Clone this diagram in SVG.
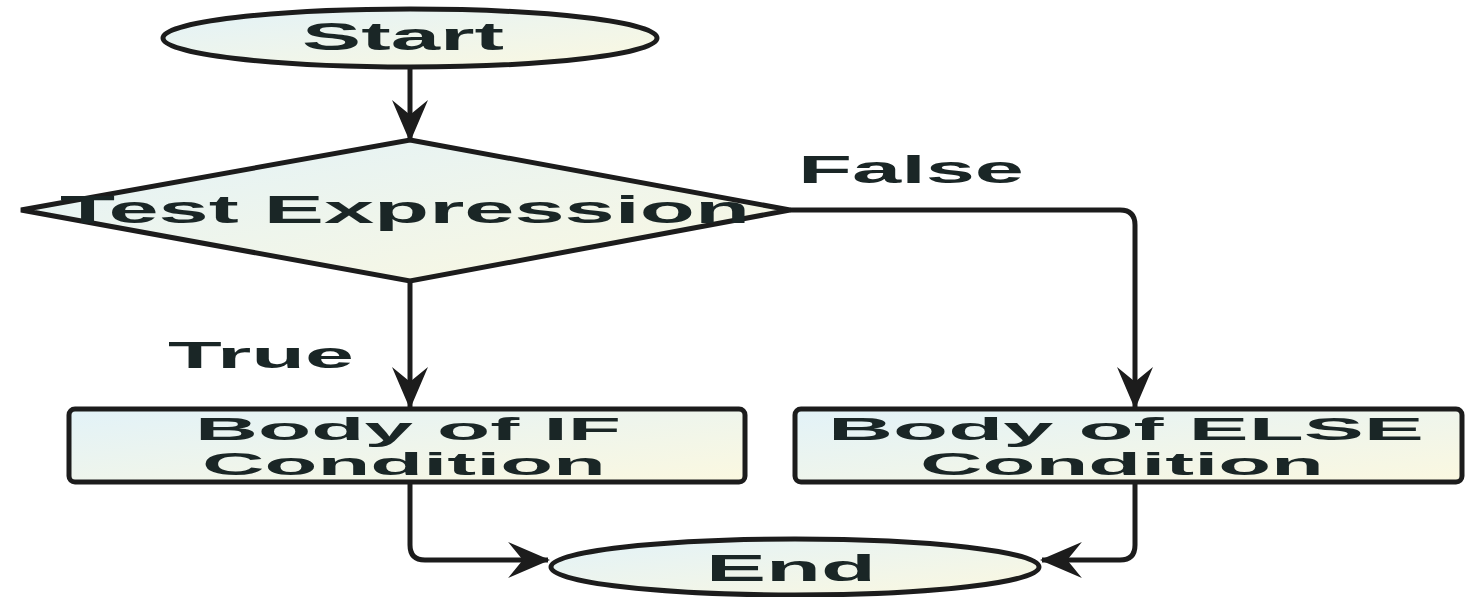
<svg xmlns="http://www.w3.org/2000/svg" width="1468" height="597" viewBox="0 0 1468 597">
  <defs>
    <linearGradient id="fillGrad" x1="0" y1="0" x2="1" y2="1">
      <stop offset="0" stop-color="#e2f2f8"/>
      <stop offset="1" stop-color="#fbf8e0"/>
    </linearGradient>
    <marker id="arrowBig" viewBox="0 0 20 20" refX="19" refY="10" markerWidth="42" markerHeight="36" markerUnits="userSpaceOnUse" orient="auto" preserveAspectRatio="none">
      <path d="M0,0 L20,10 L0,20 L7,10 Z" fill="#1c1c1c"/>
    </marker>
  </defs>
  <style>
    .shape { fill: url(#fillGrad); stroke: #1c1c1c; stroke-width: 5; }
    .conn { fill: none; stroke: #1c1c1c; stroke-width: 5; marker-end: url(#arrowBig); }
    .label { font-family: "Liberation Sans", Arial, sans-serif; font-weight: bold; fill: #1a2626; }
  </style>

  <!-- connectors -->
  <g id="connectors">
    <path class="conn" d="M410,68 L410,140"/>
    <path class="conn" d="M790,210 L1120,210 Q1135,210 1135,225 L1135,407"/>
    <path class="conn" d="M410,281 L410,407"/>
    <path class="conn" d="M410,483 L410,545 Q410,560 425,560 L548,560"/>
    <path class="conn" d="M1135,483 L1135,545 Q1135,560 1120,560 L1042,560"/>
  </g>

  <g id="start">
    <ellipse class="shape" cx="410" cy="38" rx="247" ry="29"/>
    <text class="label" x="302" y="50" font-size="38" textLength="202" lengthAdjust="spacingAndGlyphs">Start</text>
  </g>

  <g id="test">
    <polygon class="shape" points="410,140 790,210 410,281 21,210"/>
    <text class="label" x="60" y="223" font-size="38" textLength="690" lengthAdjust="spacingAndGlyphs">Test Expression</text>
  </g>

  <g id="edge-labels">
    <text class="label" x="798" y="183" font-size="38" textLength="226" lengthAdjust="spacingAndGlyphs">False</text>
    <text class="label" x="168" y="368" font-size="37" textLength="186" lengthAdjust="spacingAndGlyphs">True</text>
  </g>

  <g id="body-if">
    <rect class="shape" x="69" y="409" width="676" height="73" rx="6"/>
    <text class="label" x="195" y="440" font-size="32" textLength="426" lengthAdjust="spacingAndGlyphs">Body of IF</text>
    <text class="label" x="202" y="475" font-size="32" textLength="404" lengthAdjust="spacingAndGlyphs">Condition</text>
  </g>

  <g id="body-else">
    <rect class="shape" x="795" y="409" width="667" height="73" rx="6"/>
    <text class="label" x="828" y="440" font-size="32" textLength="596" lengthAdjust="spacingAndGlyphs">Body of ELSE</text>
    <text class="label" x="920" y="475" font-size="32" textLength="404" lengthAdjust="spacingAndGlyphs">Condition</text>
  </g>

  <g id="end">
    <ellipse class="shape" cx="795" cy="567" rx="244" ry="28"/>
    <text class="label" x="706" y="581" font-size="37" textLength="170" lengthAdjust="spacingAndGlyphs">End</text>
  </g>
</svg>
